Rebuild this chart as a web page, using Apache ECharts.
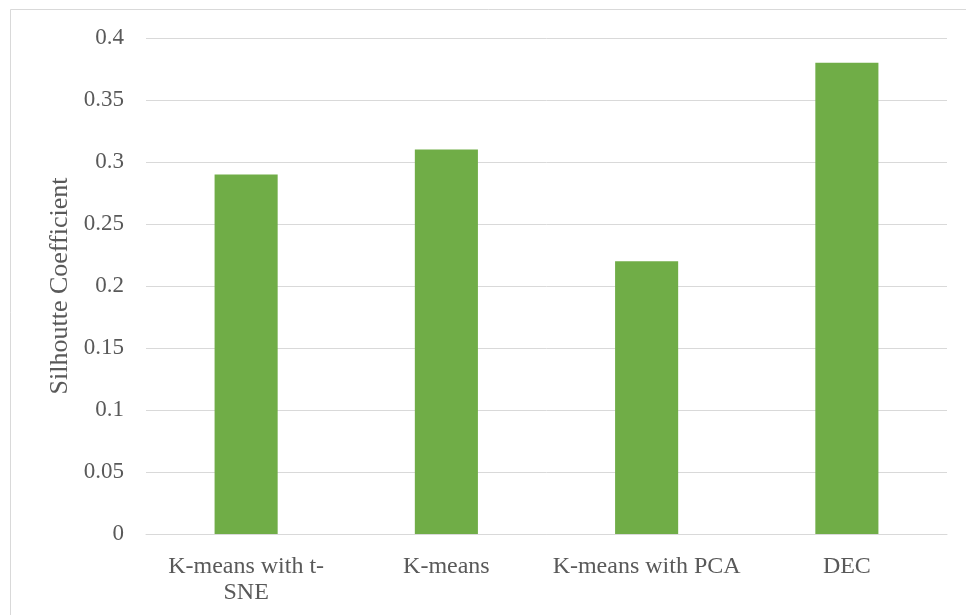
<!DOCTYPE html>
<html>
<head>
<meta charset="utf-8">
<script src="https://cdn.jsdelivr.net/npm/echarts@6/dist/echarts.min.js"></script>
<style>
html,body{margin:0;padding:0;background:#fff;}
#chart{width:966px;height:615px;}
</style>
</head>
<body>
<div id="chart"></div>
<script>
const categories = ['K-means with t-\nSNE', 'K-means', 'K-means with PCA', 'DEC'];
const silhouette = [0.29, 0.31, 0.22, 0.38];
const yTicks = [0, 0.05, 0.1, 0.15, 0.2, 0.25, 0.3, 0.35, 0.4];

const chart = echarts.init(document.getElementById('chart'));
const font = '"Liberation Serif", "Times New Roman", serif';
chart.setOption({
  animation: false,
  backgroundColor: '#ffffff',
  graphic: [{
    type: 'rect',
    shape: {x: 10.5, y: 9.5, width: 1000, height: 700},
    style: {fill: 'none', stroke: '#d9d9d9', lineWidth: 1},
    silent: true
  }],
  grid: {left: 146, right: 19, top: 38, bottom: 81, containLabel: false},
  xAxis: {
    type: 'category',
    data: categories,
    axisLine: {show: true, lineStyle: {color: '#d9d9d9', width: 1}},
    axisTick: {show: false},
    axisLabel: {
      fontFamily: font, fontSize: 24, color: '#595959', margin: 20, lineHeight: 26, interval: 0
    }
  },
  yAxis: {
    type: 'value',
    min: 0, max: 0.4, interval: 0.05,
    name: 'Silhoutte Coefficient',
    nameLocation: 'middle',
    nameGap: 71,
    nameTextStyle: {fontFamily: font, fontSize: 26, color: '#595959'},
    axisLine: {show: false},
    axisTick: {show: false},
    splitLine: {lineStyle: {color: '#d9d9d9', width: 1}},
    axisLabel: {
      fontFamily: font, fontSize: 23, color: '#595959', margin: 22,
      formatter: v => String(parseFloat(v.toFixed(2)))
    }
  },
  series: [{
    type: 'bar',
    data: silhouette,
    barWidth: '31.5%',
    itemStyle: {color: '#70ad47'}
  }]
});
</script>
</body>
</html>
